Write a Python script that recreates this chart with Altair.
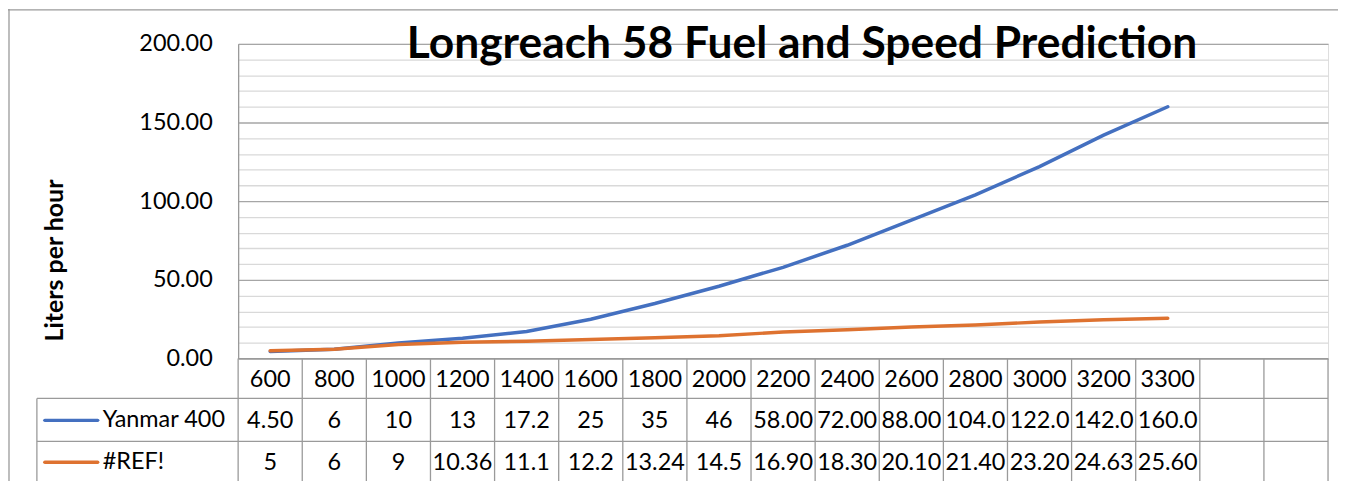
import altair as alt
import pandas as pd

rpm = ["600", "800", "1000", "1200", "1400", "1600", "1800", "2000",
       "2200", "2400", "2600", "2800", "3000", "3200", "3300"]
blank_cols = [" ", "  "]
yanmar = [4.5, 6, 10, 13, 17.2, 25, 35, 46, 58, 72, 88, 104, 122, 142, 160]
ref = [5, 6, 9, 10.36, 11.1, 12.2, 13.24, 14.5, 16.9, 18.3, 20.1, 21.4, 23.2, 24.63, 25.6]
yanmar_txt = ["4.50", "6", "10", "13", "17.2", "25", "35", "46", "58.00", "72.00",
              "88.00", "104.0", "122.0", "142.0", "160.0"]
ref_txt = ["5", "6", "9", "10.36", "11.1", "12.2", "13.24", "14.5", "16.90", "18.30",
           "20.10", "21.40", "23.20", "24.63", "25.60"]
series = ["Yanmar 400", "#REF!"]
colors = ["#4470C0", "#DE7230"]
title = "Longreach 58 Fuel and Speed Prediction"
y_title = "Liters per hour"

W, H = 1094, 316
FONT = "Lato"
FS = 23.5
GRID_MAJOR = "#a6a6a6"
GRID_MINOR = "#d9d9d9"
TABLE = "#9a9a9a"

domain = rpm + blank_cols
xscale = alt.Scale(domain=domain, type="band", paddingInner=0, paddingOuter=0)

df = pd.DataFrame({
    "rpm": rpm * 2,
    "value": yanmar + ref,
    "series": [series[0]] * len(rpm) + [series[1]] * len(rpm),
})
df_y = pd.DataFrame({"rpm": rpm, "txt": yanmar_txt})
df_r = pd.DataFrame({"rpm": rpm, "txt": ref_txt})
df_cols = pd.DataFrame({"rpm": domain})
df_leg = pd.DataFrame({"series": series, "row": [0, 1]})

yaxis = alt.Axis(
    values=list(range(0, 201, 10)),
    grid=True,
    gridColor={"condition": {"test": "datum.value % 50 === 0", "value": GRID_MAJOR},
               "value": GRID_MINOR},
    gridWidth=1.3,
    ticks=False,
    labelExpr="datum.value % 50 === 0 ? format(datum.value, '.2f') : ''",
    labelFont=FONT, labelFontSize=FS, labelColor="#000", labelPadding=26,
    domain=True, domainColor=TABLE, domainWidth=1.3,
    title=y_title, titleFont=FONT, titleFontSize=25, titleFontWeight="bold",
    titleColor="#000", titleAngle=270, titleX=-184, titleY=217,
    titleAlign="center", titleBaseline="middle",
)

lines = alt.Chart(df).mark_line(strokeWidth=3.5, strokeCap="round").encode(
    x=alt.X("rpm:N", scale=xscale, axis=None, bandPosition=0.5),
    y=alt.Y("value:Q", scale=alt.Scale(domain=[0, 200], nice=False), axis=yaxis),
    color=alt.Color("series:N", scale=alt.Scale(domain=series, range=colors), legend=None),
)

def row_text(data, field, ypix):
    return alt.Chart(data).mark_text(font=FONT, fontSize=FS, baseline="middle", color="#000").encode(
        x=alt.X("rpm:N", scale=xscale, bandPosition=0.5),
        y=alt.value(ypix),
        text=f"{field}:N",
    )

header = row_text(df_cols, "rpm", 338)
row1 = row_text(df_y, "txt", 379)
row2 = row_text(df_r, "txt", 421)

vlines = alt.Chart(df_cols).mark_rule(color=TABLE, strokeWidth=1.3).encode(
    x=alt.X("rpm:N", scale=xscale, bandPosition=0),
    y=alt.value(H), y2=alt.value(H + 140),
)
one = df_cols.head(1)
right_edge = alt.Chart(one).mark_rule(color=TABLE, strokeWidth=1.3).encode(
    x=alt.value(W), y=alt.value(H), y2=alt.value(H + 140),
)
left_edge = alt.Chart(one).mark_rule(color=TABLE, strokeWidth=1.3).encode(
    x=alt.value(-202), y=alt.value(356), y2=alt.value(H + 140),
)
hline_bottom = alt.Chart(one).mark_rule(color=TABLE, strokeWidth=1.3).encode(
    x=alt.value(0), x2=alt.value(W), y=alt.value(H),
)
hline1 = alt.Chart(one).mark_rule(color=TABLE, strokeWidth=1.3).encode(
    x=alt.value(-202), x2=alt.value(W), y=alt.value(356),
)
hline2 = alt.Chart(one).mark_rule(color=TABLE, strokeWidth=1.3).encode(
    x=alt.value(-202), x2=alt.value(W), y=alt.value(399),
)

leg_y = alt.Y("row:Q", scale=alt.Scale(domain=[0, 1], range=[378, 420]), axis=None)
leg_sym = alt.Chart(df_leg).mark_rule(strokeWidth=3.5, strokeCap="round").encode(
    x=alt.value(-194), x2=alt.value(-141),
    y=leg_y,
    color=alt.Color("series:N", scale=alt.Scale(domain=series, range=colors), legend=None),
)
leg_txt = alt.Chart(df_leg).mark_text(font=FONT, fontSize=FS, align="left", baseline="middle", color="#000").encode(
    x=alt.value(-136),
    y=leg_y,
    text="series:N",
)

frame_top = alt.Chart(one).mark_rule(color=TABLE, strokeWidth=1.3).encode(
    x=alt.value(-231), x2=alt.value(W + 10), y=alt.value(-34),
)
frame_left = alt.Chart(one).mark_rule(color=TABLE, strokeWidth=1.3).encode(
    x=alt.value(-230), y=alt.value(-35), y2=alt.value(H + 140),
)

title_mark = alt.Chart(pd.DataFrame({"t": [title]})).mark_text(
    font=FONT, fontSize=44.5, fontWeight="bold", color="#000", align="center", baseline="alphabetic"
).encode(x=alt.value(566), y=alt.value(14), text="t:N")

chart = alt.layer(
    lines, header, row1, row2, vlines, right_edge, left_edge, hline_bottom, hline1, hline2,
    leg_sym, leg_txt, frame_top, frame_left, title_mark,
).resolve_scale(y="independent").properties(
    width=W, height=H,
    autosize=alt.AutoSizeParams(type="none"),
    padding={"left": 231, "top": 35, "right": 10, "bottom": 140},
).configure_view(stroke=None).configure(background="white")

chart.save("out.html", embed_options={"renderer": "svg", "actions": False})
